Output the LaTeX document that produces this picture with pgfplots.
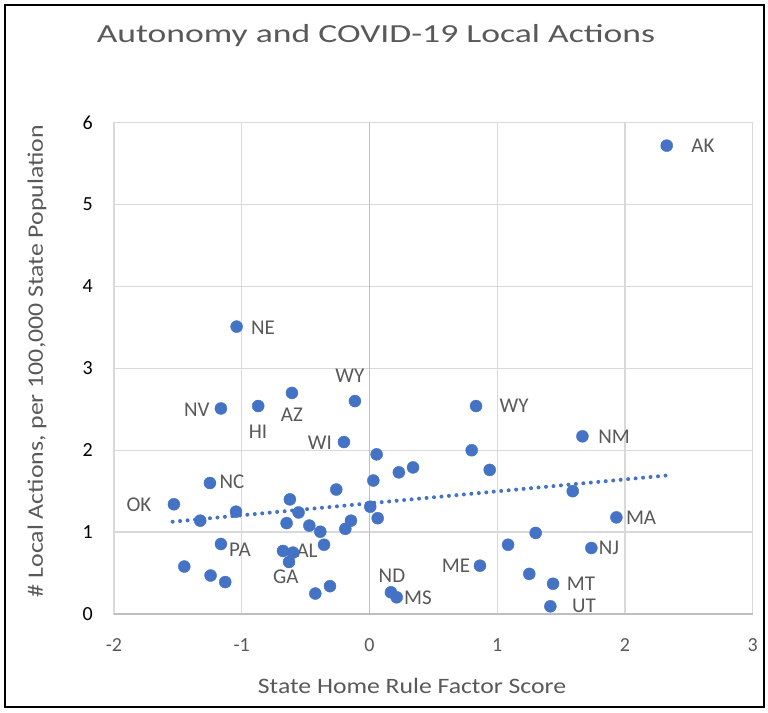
\documentclass[border=0pt]{standalone}
\usepackage{fontspec}
\setmainfont{Carlito}
\usepackage{graphicx}
\usepackage{pgfplots}
\pgfplotsset{compat=1.18}
\definecolor{txt}{HTML}{595959}
\definecolor{mk}{HTML}{4472C4}
\definecolor{gridc}{HTML}{D9D9D9}
\definecolor{zeroc}{HTML}{BFBFBF}
\begin{document}
\begin{tikzpicture}
\useasboundingbox (0pt,0pt) rectangle (768pt,-712pt);
\draw[line width=2pt] (5pt,-5pt) rectangle (764pt,-707pt);
\node[font=\fontsize{26}{30}\selectfont, text=txt, anchor=base, inner sep=0pt] at (376pt,-42pt) {\scalebox{1.37}[1]{Autonomy and COVID-19 Local Actions}};
\node[font=\fontsize{22}{26}\selectfont, text=txt, anchor=base, inner sep=0pt] at (412pt,-693pt) {\scalebox{1.168}[1]{State Home Rule Factor Score}};
\node[font=\fontsize{22}{26}\selectfont, text=txt, rotate=90, anchor=center, inner sep=0pt] at (37pt,-361pt) {\scalebox{1.173}[1]{\# Local Actions, per 100,000 State Population}};
\begin{axis}[
  at={(114pt,-614pt)}, anchor=south west,
  scale only axis, width=638.7pt, height=491.3pt,
  xmin=-2, xmax=3, ymin=0, ymax=6,
  xtick={-2,-1,0,1,2,3}, ytick={0,1,2,3,4,5,6},
  grid=major,
  major grid style={color=gridc, line width=1.3pt},
  axis line style={color=gridc, line width=1.3pt},
  major tick length=0pt,
  tick label style={font=\fontsize{20}{23}\selectfont, inner sep=0pt},
  /pgf/number format/assume math mode=true,
  xticklabel style={anchor=north, yshift=-24pt, text=txt},
  yticklabel style={anchor=east, xshift=-21pt, text=black},
  clip=false,
]
\draw[color=zeroc, line width=1.3pt] (axis cs:0,0) -- (axis cs:0,6);
\draw[color=zeroc, line width=1.3pt] (axis cs:-2,0) -- (axis cs:3,0);
\addplot[only marks, mark=*, mark size=6pt, mark options={fill=mk, draw=mk}] coordinates {
(2.327,5.72) (-1.040,3.51) (-1.163,2.51) (-0.871,2.54) (-0.607,2.70)
(-0.114,2.60) (-0.200,2.10) (0.056,1.95) (0.230,1.73) (0.341,1.79)
(0.030,1.63) (-1.249,1.60) (-1.531,1.34) (-1.325,1.14) (-1.045,1.25)
(-0.623,1.40) (-0.260,1.52) (-0.555,1.24) (-0.649,1.11) (-0.471,1.08)
(-0.385,1.005) (-0.145,1.14) (-0.189,1.04) (0.006,1.31) (0.064,1.17)
(-1.163,0.855) (-0.356,0.846) (-0.677,0.77) (-0.599,0.75) (-0.630,0.635)
(-1.450,0.58) (-1.244,0.47) (-1.129,0.39) (-0.424,0.25) (-0.309,0.34)
(0.168,0.265) (0.213,0.204) (0.834,2.54) (1.667,2.17) (0.800,2.00)
(0.941,1.76) (1.591,1.50) (1.933,1.18) (1.301,0.99) (1.085,0.846)
(1.737,0.806) (0.865,0.59) (1.251,0.49) (1.437,0.37) (1.416,0.094)
};
\addplot[color=mk, line width=4pt, line cap=round, dash pattern=on 0pt off 7.5pt] coordinates {(-1.541,1.127) (2.335,1.693)};
\tikzset{lbl/.style={font=\fontsize{21}{24}\selectfont, text=txt, inner sep=0pt, anchor=center}}
\node[lbl] at (axis cs:2.611,5.714) {AK};
\node[lbl] at (axis cs:-0.834,3.492) {NE};
\node[lbl] at (axis cs:-1.351,2.491) {NV};
\node[lbl] at (axis cs:-0.873,2.222) {HI};
\node[lbl] at (axis cs:-0.607,2.430) {AZ};
\node[lbl] at (axis cs:-0.153,2.906) {WY};
\node[lbl] at (axis cs:-0.388,2.088) {WI};
\node[lbl] at (axis cs:-1.077,1.612) {NC};
\node[lbl] at (axis cs:-1.805,1.331) {OK};
\node[lbl] at (axis cs:-1.014,0.781) {PA};
\node[lbl] at (axis cs:-0.489,0.769) {AL};
\node[lbl] at (axis cs:-0.654,0.452) {GA};
\node[lbl] at (axis cs:0.176,0.464) {ND};
\node[lbl] at (axis cs:0.380,0.195) {MS};
\node[lbl] at (axis cs:0.677,0.586) {ME};
\node[lbl] at (axis cs:1.132,2.540) {WY};
\node[lbl] at (axis cs:1.915,2.161) {NM};
\node[lbl] at (axis cs:2.126,1.172) {MA};
\node[lbl] at (axis cs:1.875,0.806) {NJ};
\node[lbl] at (axis cs:1.656,0.366) {MT};
\node[lbl] at (axis cs:1.679,0.098) {UT};
\end{axis}
\end{tikzpicture}
\end{document}
